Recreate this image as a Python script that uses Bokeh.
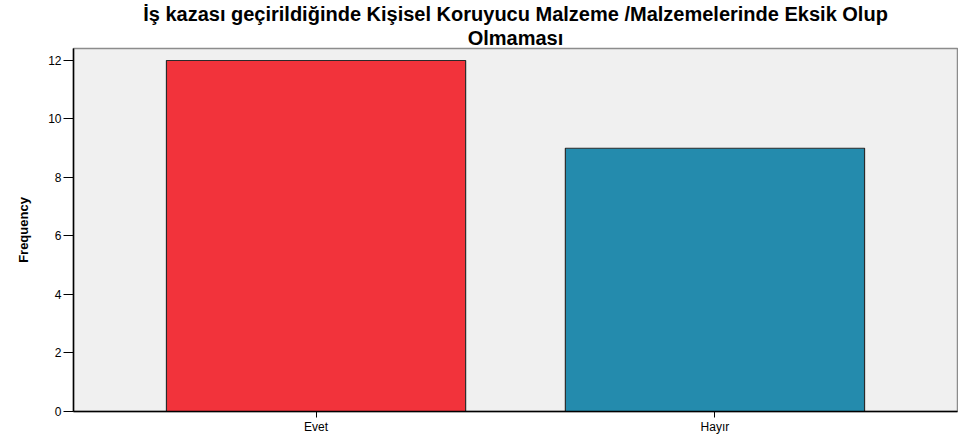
from bokeh.plotting import figure
from bokeh.models import FactorRange, Range1d, FixedTicker, Title, ColumnDataSource
from bokeh.embed import file_html
from bokeh.resources import INLINE

title_lines = ["İş kazası geçirildiğinde Kişisel Koruyucu Malzeme /Malzemelerinde Eksik Olup",
               "Olmaması"]
categories = ["Evet", "Hayır"]
frequency = [12, 9]
bar_colors = ["#f2333b", "#248bad"]
y_ticks = [0, 2, 4, 6, 8, 10, 12]
y_top = 12.41

src = ColumnDataSource(dict(cat=categories, freq=frequency, color=bar_colors))

p = figure(width=958, height=436, output_backend="svg", toolbar_location=None,
           x_range=FactorRange(factors=categories, range_padding=0.108, range_padding_units="absolute"),
           y_range=Range1d(0, y_top),
           min_border_left=73, min_border_right=1, min_border_top=0, min_border_bottom=0)

p.title = None
for line in reversed(title_lines):
    p.add_layout(Title(text=line, align="center", text_font="Liberation Sans",
                       text_font_size="20px", text_font_style="bold", text_color="#000000",
                       text_line_height=0.75, standoff=0, offset=0), "above")

p.vbar(x="cat", top="freq", width=0.75, fill_color="color", line_color="#2b2b2b",
       line_width=1.2, source=src)

p.background_fill_color = "#f0f0f0"
p.border_fill_color = "white"
p.outline_line_color = "#8c8c8c"
p.outline_line_width = 1.5
p.grid.visible = False

p.yaxis.ticker = FixedTicker(ticks=y_ticks)
p.yaxis.minor_tick_line_color = None
p.yaxis.major_tick_in = 0
p.yaxis.major_tick_out = 10
p.yaxis.axis_label = "Frequency"
p.yaxis.axis_label_text_font = "Liberation Sans"
p.yaxis.axis_label_text_font_style = "bold"
p.yaxis.axis_label_text_font_size = "13px"
p.yaxis.axis_label_text_color = "#000000"
p.yaxis.axis_label_standoff = 14
p.yaxis.major_label_text_font = "Liberation Sans"
p.yaxis.major_label_text_font_size = "12px"
p.yaxis.major_label_standoff = 2

p.xaxis.major_tick_in = 0
p.xaxis.major_tick_out = 6
p.xaxis.major_label_text_font = "Liberation Sans"
p.xaxis.major_label_text_font_size = "12px"
p.xaxis.major_label_standoff = 2

for ax in (p.xaxis, p.yaxis):
    ax.axis_line_color = "#000000"
    ax.axis_line_width = 1.5
    ax.major_tick_line_color = "#000000"
    ax.major_tick_line_width = 1
    ax.major_label_text_color = "#000000"

open("out.html", "w").write(file_html(p, INLINE))
